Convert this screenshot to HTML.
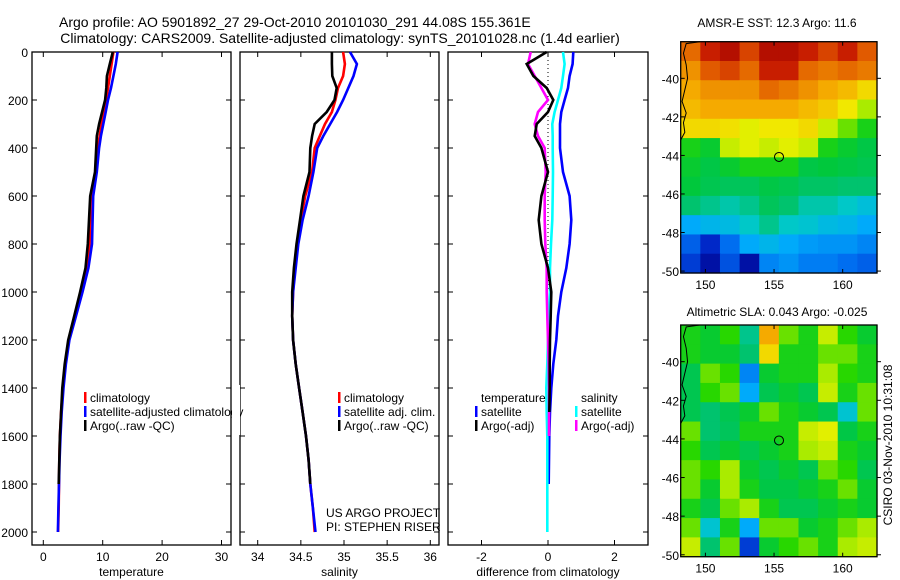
<!DOCTYPE html>
<html><head><meta charset="utf-8"><style>
body{margin:0;background:#fff;}
svg{display:block;font-family:"Liberation Sans",sans-serif;}
</style></head><body>
<svg id="s" width="900" height="580" xmlns="http://www.w3.org/2000/svg">
<text x="59" y="27" font-size="14">Argo profile: AO 5901892_27 29-Oct-2010 20101030_291 44.08S 155.361E</text>
<text x="340" y="43" font-size="14" text-anchor="middle">Climatology: CARS2009. Satellite-adjusted climatology: synTS_20101028.nc (1.4d earlier)</text>
<text x="777" y="27" font-size="12" text-anchor="middle">AMSR-E SST: 12.3 Argo: 11.6</text>
<text x="777" y="316" font-size="12" text-anchor="middle">Altimetric SLA: 0.043 Argo: -0.025</text>
<text transform="translate(892,445) rotate(-90)" font-size="12" text-anchor="middle">CSIRO 03-Nov-2010 10:31:08</text>
<text x="326" y="517" font-size="12">US ARGO PROJECT</text>
<text x="326" y="531" font-size="12">PI: STEPHEN RISER</text>
</svg>
<script>
const depths=[0,50,100,150,200,250,300,350,400,500,600,700,800,900,1000,1100,1200,1300,1400,1500,1600,1700,1800,1900,2000];
const tempClim=[11.8,11.5,11.2,10.9,10.6,10.2,9.8,9.5,9.2,8.8,8.0,7.9,7.8,7.3,6.3,5.3,4.3,3.7,3.3,3.0,2.8,2.7,2.65,2.6,2.5];
const tempSat=[12.5,12.2,11.8,11.4,10.9,10.5,10.1,9.7,9.4,9.0,8.4,8.3,8.2,7.6,6.6,5.5,4.4,3.8,3.4,3.1,2.9,2.75,2.65,2.55,2.45];
const tempArgo=[11.7,11.2,10.7,10.6,10.4,9.9,9.4,9.0,8.9,8.7,7.9,7.7,7.5,7.1,6.2,5.2,4.2,3.6,3.2,3.0,2.8,2.7,2.6];
const salClim=[34.99,35.01,34.99,34.93,34.9,34.86,34.78,34.72,34.66,34.63,34.55,34.5,34.46,34.43,34.41,34.4,34.41,34.44,34.48,34.52,34.56,34.59,34.61,34.64,34.66];
const salSat=[35.07,35.15,35.11,35.05,34.99,34.92,34.84,34.76,34.69,34.645,34.59,34.52,34.47,34.44,34.41,34.4,34.41,34.44,34.48,34.52,34.56,34.59,34.61,34.64,34.67];
const salArgo=[34.86,34.86,34.865,34.915,34.89,34.8,34.66,34.63,34.61,34.6,34.53,34.49,34.45,34.42,34.4,34.4,34.41,34.44,34.48,34.52,34.56,34.59,34.61];
const dTempSat=[0.76,0.74,0.65,0.6,0.5,0.4,0.36,0.36,0.36,0.45,0.65,0.7,0.65,0.55,0.4,0.3,0.25,0.16,0.1,0.06,0.04,0.03,0.02];
const dTempArgo=[-0.04,-0.64,-0.44,-0.04,0.16,0,-0.34,-0.4,-0.2,0,-0.2,-0.28,-0.2,0,0.1,0.08,0.06,0.05,0.05,0.04];
const dSalSat=[0.45,0.5,0.45,0.4,0.3,0.2,0.13,0.14,0.14,0.15,0.14,0.13,0.09,0.06,0.06,0.02,0,-0.02,-0.05,-0.04,-0.02,-0.02,-0.02,-0.02,-0.02];
const dSalArgo=[-0.52,-0.6,-0.4,-0.2,0,-0.3,-0.4,-0.3,-0.1,-0.07,-0.1,-0.1,-0.08,-0.04,-0.04,-0.02,0,0.02,0.03,0.03,0.03];
const depthTicks=[0,200,400,600,800,1000,1200,1400,1600,1800,2000];
const tempTicks=[0,10,20,30];
const salTicks=[34,34.5,35,35.5,36];
const diffTicks=[-2,0,2];
const latTicks=[-40,-42,-44,-46,-48,-50];
const lonTicks=[150,155,160];
const argoLon=155.361, argoLat=-44.08;
const sstGrid=[
[0.8,0.9,0.95,0.85,0.95,0.95,0.9,0.85,0.9,0.82],
[0.75,0.82,0.85,0.8,0.9,0.9,0.8,0.78,0.8,0.78],
[0.72,0.75,0.75,0.75,0.8,0.78,0.75,0.72,0.7,0.66],
[0.7,0.72,0.72,0.72,0.72,0.72,0.7,0.68,0.64,0.58],
[0.66,0.66,0.65,0.62,0.64,0.64,0.66,0.6,0.55,0.5],
[0.5,0.48,0.6,0.62,0.6,0.62,0.6,0.5,0.48,0.46],
[0.48,0.46,0.48,0.5,0.5,0.5,0.46,0.47,0.46,0.45],
[0.47,0.45,0.44,0.44,0.46,0.45,0.43,0.43,0.42,0.42],
[0.42,0.4,0.38,0.4,0.44,0.42,0.38,0.38,0.36,0.34],
[0.3,0.32,0.33,0.36,0.4,0.36,0.35,0.33,0.32,0.3],
[0.2,0.12,0.22,0.3,0.32,0.3,0.28,0.27,0.27,0.25],
[0.15,0.05,0.18,0.05,0.25,0.27,0.24,0.24,0.22,0.2]];
const slaGrid=[
[0.5,0.48,0.52,0.4,0.72,0.55,0.5,0.6,0.52,0.48],
[0.5,0.48,0.48,0.42,0.66,0.5,0.5,0.55,0.55,0.5],
[0.45,0.55,0.52,0.25,0.48,0.5,0.5,0.58,0.52,0.5],
[0.45,0.52,0.55,0.3,0.45,0.48,0.45,0.6,0.5,0.55],
[0.45,0.42,0.45,0.48,0.55,0.5,0.48,0.45,0.35,0.55],
[0.55,0.42,0.44,0.5,0.5,0.5,0.6,0.62,0.46,0.5],
[0.52,0.45,0.48,0.45,0.48,0.5,0.58,0.6,0.5,0.48],
[0.55,0.52,0.58,0.48,0.45,0.48,0.45,0.55,0.52,0.45],
[0.55,0.48,0.58,0.5,0.46,0.46,0.48,0.5,0.55,0.48],
[0.5,0.45,0.55,0.58,0.5,0.45,0.45,0.48,0.5,0.48],
[0.55,0.35,0.5,0.3,0.55,0.55,0.48,0.5,0.55,0.58],
[0.6,0.42,0.55,0.15,0.48,0.52,0.55,0.5,0.58,0.6]];
const coastLon=[149.6,148.6,148.4,148.6,148.7,148.5,148.3,148.6,148.4,148.5,148.2];
const coastLat=[-38.1,-38.2,-38.7,-39.3,-40.0,-40.6,-41.2,-41.8,-42.3,-42.8,-43.2];

const S=document.getElementById('s');
const NS='http://www.w3.org/2000/svg';
function mk(tag,at,parent){const e=document.createElementNS(NS,tag);for(const k in at)e.setAttribute(k,at[k]);(parent||S).appendChild(e);return e;}
const yTop=52,yBot=532;
function yD(d){return yTop+(yBot-yTop)*d/2000;}
function lin(d0,d1,p0,p1){return v=>p0+(v-d0)*(p1-p0)/(d1-d0);}
const panels=[
 {x0:32,x1:231,sx:lin(0,10,43.3,102.7),ticks:tempTicks,label:'temperature',name:'temperature'},
 {x0:240,x1:439,sx:lin(34,35,257.7,344),ticks:salTicks,label:'salinity',name:'salinity'},
 {x0:448,x1:648,sx:lin(0,2,548,614.5),ticks:diffTicks,label:'difference from climatology',name:'difference'}];
panels.forEach((p,i)=>{
 const g=mk('g',{});
 
 
 const r=mk('rect',{x:p.x0,y:52,width:p.x1-p.x0,height:493,fill:'none',stroke:'#000','stroke-width':1.3},g);
 
 
 p.ticks.forEach(t=>{const x=p.sx(t);
  mk('line',{x1:x,x2:x,y1:52,y2:57,stroke:'#000'},g);mk('line',{x1:x,x2:x,y1:545,y2:540,stroke:'#000'},g);
  const tx=mk('text',{x:x,y:561,'font-size':12,'text-anchor':'middle'},g);tx.textContent=t;
  
  });
 depthTicks.forEach(d=>{const y=yD(d);
  mk('line',{x1:p.x0,x2:p.x0+5,y1:y,y2:y,stroke:'#000'},g);mk('line',{x1:p.x1,x2:p.x1-5,y1:y,y2:y,stroke:'#000'},g);
  if(i===0){const tx=mk('text',{x:28,y:y+5,'font-size':12,'text-anchor':'end'},g);tx.textContent=d;
   
   }});
 const xl=mk('text',{x:(p.x0+p.x1)/2,y:576,'font-size':12,'text-anchor':'middle'},g);xl.textContent=p.label;
 
 
});
function prof(vals,sx,color,name){
 const pts=vals.map((v,i)=>sx(v).toFixed(1)+','+yD(depths[i]).toFixed(1)).join(' ');
 const l=mk('polyline',{points:pts,fill:'none',stroke:color,'stroke-width':2.6});
 
 
}
const p0=panels[0].sx,p1=panels[1].sx,p2=panels[2].sx;
const z=mk('line',{x1:p2(0),x2:p2(0),y1:52,y2:yD(1000),stroke:'#000','stroke-dasharray':'1,3'});


prof(tempClim,p0,'#f00','temp-climatology-line');
prof(tempSat,p0,'#00f','temp-satellite-line');
prof(tempArgo,p0,'#000','temp-argo-line');
prof(salClim,p1,'#f00','sal-climatology-line');
prof(salSat,p1,'#00f','sal-satellite-line');
prof(salArgo,p1,'#000','sal-argo-line');
prof(dTempSat,p2,'#00f','diff-temp-satellite-line');
prof(dSalSat,p2,'#0ff','diff-sal-satellite-line');
prof(dSalArgo,p2,'#f0f','diff-sal-argo-line');
prof(dTempArgo,p2,'#000','diff-temp-argo-line');
function legend(x,y,color,text){
 const g=mk('g',{});
 
 
 if(color)mk('rect',{x:x-6,y:y-10,width:2.5,height:11,fill:color},g);
 const t=mk('text',{x:x,y:y,'font-size':12},g);t.textContent=text;
}
legend(90,402,'#f00','climatology');legend(90,416,'#00f','satellite-adjusted climatology');legend(90,430,'#000','Argo(..raw -QC)');
legend(344,402,'#f00','climatology');legend(344,416,'#00f','satellite adj. clim.');legend(344,430,'#000','Argo(..raw -QC)');
legend(481,402,null,'temperature');legend(481,416,'#00f','satellite');legend(481,430,'#000','Argo(-adj)');
legend(581,402,null,'salinity');legend(581,416,'#0ff','satellite');legend(581,430,'#f0f','Argo(-adj)');
mk('rect',{x:232,y:385,width:8,height:50,fill:'#fff'});
// colormap tuned to reference
const cmStops=[[0,0,0,140],[0.12,0,40,200],[0.22,0,110,240],[0.3,0,170,250],[0.36,0,200,200],[0.42,0,195,110],[0.47,0,200,60],[0.52,40,215,0],[0.58,170,235,0],[0.63,240,240,0],[0.72,245,170,0],[0.82,225,90,0],[0.9,200,30,0],[1,160,0,0]];
function cmap(v){for(let i=1;i<cmStops.length;i++){const a=cmStops[i-1],b=cmStops[i];if(v<=b[0]){const f=(v-a[0])/(b[0]-a[0]);return `rgb(${Math.round(a[1]+f*(b[1]-a[1]))},${Math.round(a[2]+f*(b[2]-a[2]))},${Math.round(a[3]+f*(b[3]-a[3]))})`;}}return 'rgb(160,0,0)';}
const lonMin=148.2,lonMax=162.5,latMax=-38.1,latMin=-50.1;
function drawMap(grid,top,bot,name){
 const g=mk('g',{});
 
 
 const L=680.7,R=877,sxm=lin(lonMin,lonMax,L,R),sym=lin(latMax,latMin,top,bot);
 const nr=grid.length,nc=grid[0].length,cw=(R-L)/nc,ch=(bot-top)/nr;
 grid.forEach((row,i)=>row.forEach((v,j)=>{const c=mk('rect',{x:L+j*cw,y:top+i*ch,width:cw+0.6,height:ch+0.6,fill:cmap(v)},g);
  
  }));
 const cl=mk('polyline',{points:coastLon.map((v,i)=>sxm(v)+','+sym(coastLat[i])).join(' '),fill:'none',stroke:'#000','stroke-width':1},g);
 
 
 const c=mk('circle',{cx:sxm(argoLon),cy:sym(argoLat),r:4.5,fill:'none',stroke:'#000','stroke-width':1},g);
 
 
 mk('rect',{x:L,y:top,width:R-L,height:bot-top,fill:'none',stroke:'#000','stroke-width':1.3},g);
 lonTicks.forEach(t=>{const x=sxm(t);mk('line',{x1:x,x2:x,y1:top,y2:top+4,stroke:'#000'},g);mk('line',{x1:x,x2:x,y1:bot,y2:bot-4,stroke:'#000'},g);
  const tx=mk('text',{x:x,y:bot+16,'font-size':12,'text-anchor':'middle'},g);tx.textContent=t;
  
  });
 latTicks.forEach(t=>{const y=sym(t);mk('line',{x1:R,x2:R+4,y1:y,y2:y,stroke:'#000'},g);mk('line',{x1:L,x2:L+4,y1:y,y2:y,stroke:'#000'},g);
  const tx=mk('text',{x:679,y:y+5,'font-size':12,'text-anchor':'end'},g);tx.textContent=t;
  
  });
}
drawMap(sstGrid,41.7,273,'sst-map');
drawMap(slaGrid,325,556.7,'sla-map');
</script>
</body></html>
